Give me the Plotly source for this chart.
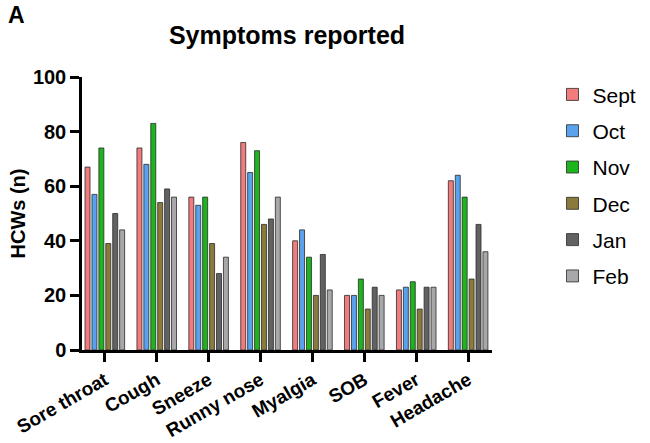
import plotly.graph_objects as go

categories = ["Sore throat", "Cough", "Sneeze", "Runny nose", "Myalgia", "SOB", "Fever", "Headache"]
months = ["Sept", "Oct", "Nov", "Dec", "Jan", "Feb"]
sept = [67, 74, 56, 76, 40, 20, 22, 62]
oct_ = [57, 68, 53, 65, 44, 20, 23, 64]
nov = [74, 83, 56, 73, 34, 26, 25, 56]
dec = [39, 54, 39, 46, 20, 15, 15, 26]
jan = [50, 59, 28, 48, 35, 23, 23, 46]
feb = [44, 56, 34, 56, 22, 20, 23, 36]
series = [sept, oct_, nov, dec, jan, feb]
colors = ["#F27B7E", "#5AA2EE", "#1DB41D", "#8A7B3C", "#626262", "#A8A8AA"]

FONT = "Liberation Sans, Arial, sans-serif"

fig = go.Figure()
for i, (m, vals, c) in enumerate(zip(months, series, colors)):
    fig.add_trace(go.Bar(
        x=categories, y=vals, name=m, legendgroup=m,
        marker=dict(color=c, line=dict(color="#2a2a2a", width=0.8)),
    ))

fig.update_layout(
    width=650, height=443,
    margin=dict(l=82, r=158, t=77, b=93),
    paper_bgcolor="white", plot_bgcolor="white",
    barmode="group", bargap=0.2, bargroupgap=0.28,
    font=dict(family=FONT, color="black"),
    title=dict(text="Symptoms reported", x=(82 + 492) / 2 / 650, xanchor="center",
               y=1 - 35 / 443, yanchor="middle",
               font=dict(size=25, family=FONT, color="black", weight="bold")),
    showlegend=True,
    legend=dict(xref="container", x=0.85, xanchor="left", y=1.01, yanchor="top",
                font=dict(size=21, family=FONT, color="black"),
                tracegroupgap=6, itemwidth=30, bgcolor="rgba(0,0,0,0)", maxheight=420),
    annotations=[dict(text="A", xref="paper", yref="paper", x=-82 / 410 + 6 / 410,
                      y=1 + (77 - 15) / 273, xanchor="left", yanchor="middle", showarrow=False,
                      font=dict(size=23, family=FONT, color="black", weight="bold"))],
)
fig.update_xaxes(
    range=[-0.44, 7.46], showline=True, linecolor="black", linewidth=2.5,
    ticks="outside", ticklen=9, tickwidth=2.5, tickcolor="black", tickangle=-30,
    tickfont=dict(size=19, family=FONT, color="black", weight="bold"),
    showgrid=False, zeroline=False, automargin=False,
)
fig.update_yaxes(
    range=[0, 100], tickvals=[0, 20, 40, 60, 80, 100], showline=True, linecolor="black",
    linewidth=2.5, ticks="outside", ticklen=9, tickwidth=2.5, tickcolor="black",
    tickfont=dict(size=20, family=FONT, color="black", weight="bold"),
    showgrid=False, zeroline=False, automargin=False,
    title=dict(text="HCWs (n)", font=dict(size=20, family=FONT, color="black", weight="bold"),
               standoff=2),
)

fig.write_html("out.html")
